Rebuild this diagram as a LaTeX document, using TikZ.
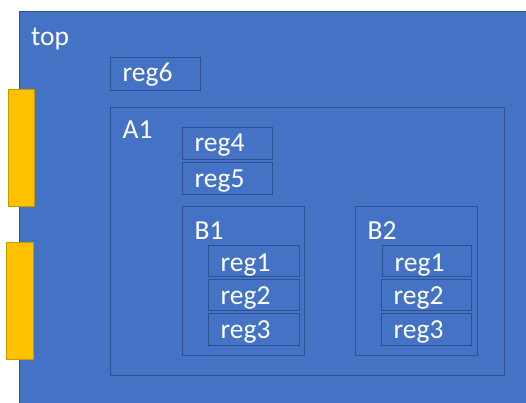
\documentclass[tikz,border=0pt]{standalone}
\usepackage{fontspec}
\setmainfont{Carlito}
\definecolor{blockfill}{HTML}{4472C4}
\definecolor{blockline}{HTML}{2F528F}
\definecolor{portfill}{HTML}{FFC000}
\definecolor{portline}{HTML}{C79A00}
\tikzset{
  block/.style={draw=blockline, line width=1.3pt, fill=blockfill, inner sep=0pt, anchor=north west},
  frame/.style={draw=blockline, line width=1.3pt, inner sep=0pt, anchor=north west},
  port/.style={draw=portline, line width=1pt, fill=portfill, inner sep=0pt, anchor=north west},
  lbl/.style={text=white, font=\fontsize{27.5}{30}\selectfont, inner sep=0pt, anchor=base west},
}
\begin{document}
\begin{tikzpicture}[x=1pt, y=-1pt]
  \useasboundingbox (0,0) rectangle (526,403);
  % top-level module, running off the right and bottom edges
  \node[block, minimum width=520pt, minimum height=400pt] (top) at (19,11) {};
  \node[lbl] (toplbl) at (31,46) {top};
  % ports on the left side
  \node[port, minimum width=26pt, minimum height=117pt] (p1) at (8,89) {};
  \node[port, minimum width=27pt, minimum height=117pt] (p2) at (6,242) {};
  % register in top
  \node[frame, minimum width=90pt, minimum height=33pt] (reg6) at (110,57) {};
  \node[lbl] at (122.5,82) {reg6};
  % sub-module A1
  \node[frame, minimum width=394pt, minimum height=268pt] (A1) at (110,107) {};
  \node[lbl] at (122.5,139) {A1};
  \node[frame, minimum width=90pt, minimum height=32pt] (reg4) at (182,127) {};
  \node[lbl] at (194.5,152) {reg4};
  \node[frame, minimum width=90pt, minimum height=32pt] (reg5) at (182,162) {};
  \node[lbl] at (194.5,187) {reg5};
  % sub-module B1
  \node[frame, minimum width=122pt, minimum height=149pt] (B1) at (182,206) {};
  \node[lbl] at (194.5,239) {B1};
  \node[frame, minimum width=91pt, minimum height=31pt] (b1r1) at (208,245) {};
  \node[lbl] at (220.5,271) {reg1};
  \node[frame, minimum width=91pt, minimum height=31pt] (b1r2) at (208,279) {};
  \node[lbl] at (220.5,304) {reg2};
  \node[frame, minimum width=91pt, minimum height=32pt] (b1r3) at (208,313) {};
  \node[lbl] at (220.5,338) {reg3};
  % sub-module B2
  \node[frame, minimum width=122pt, minimum height=149pt] (B2) at (355,206) {};
  \node[lbl] at (367.5,239) {B2};
  \node[frame, minimum width=89pt, minimum height=31pt] (b2r1) at (382,245) {};
  \node[lbl] at (394.5,271) {reg1};
  \node[frame, minimum width=90pt, minimum height=31pt] (b2r2) at (381,279) {};
  \node[lbl] at (393.5,304) {reg2};
  \node[frame, minimum width=90pt, minimum height=32pt] (b2r3) at (381,313) {};
  \node[lbl] at (393.5,338) {reg3};
\end{tikzpicture}
\end{document}
